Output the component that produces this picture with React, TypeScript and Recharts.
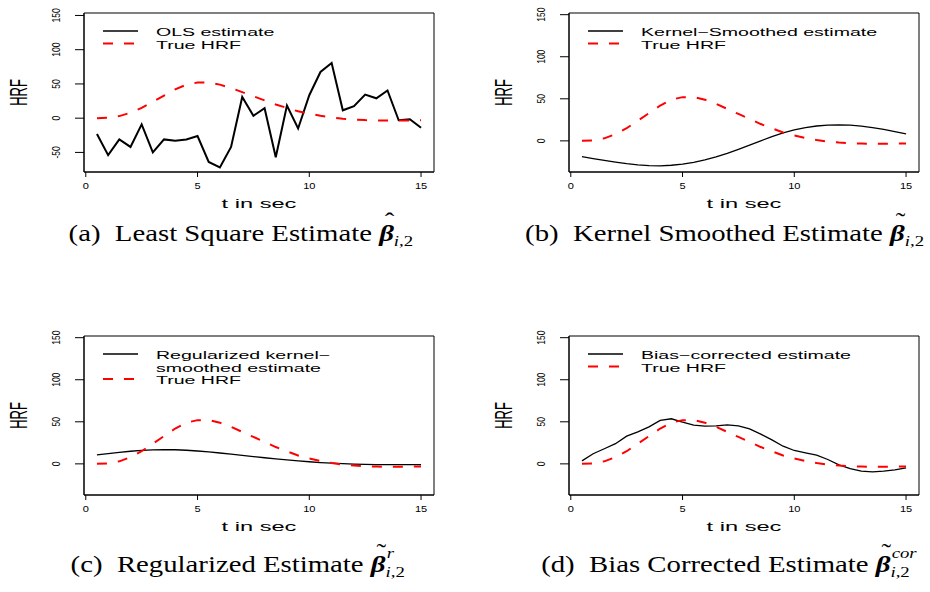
import React from "react";
import { Label, Legend, Line, LineChart, ReferenceArea, XAxis, YAxis } from "recharts";

// time grid (seconds)
const tSec = [0.5, 1, 1.5, 2, 2.5, 3, 3.5, 4, 4.5, 5, 5.5, 6, 6.5, 7, 7.5, 8, 8.5, 9, 9.5, 10, 10.5, 11, 11.5, 12, 12.5, 13, 13.5, 14, 14.5, 15];

const trueHrf = [0, 0.5, 3, 8, 15, 24, 33, 42, 49, 52, 52, 49, 44, 38, 32, 26, 20, 15, 10, 6.5, 3.5, 1, -0.8, -2, -2.8, -3.2, -3.4, -3.4, -3.3, -3.1];
const olsEstimate = [-23, -54, -31, -42, -9, -50, -31, -33, -31, -26, -64, -72, -42, 31, 3.5, 14.5, -57, 18.5, -15, 33.5, 67.5, 80.5, 11.5, 17.5, 34.5, 29, 40.5, -3, -1.5, -14];
const kernelEstimate = [-18.7, -21, -23.2, -25.2, -27, -28.5, -29.4, -29.6, -29, -27.6, -25.5, -22.7, -19, -14.8, -10, -5, 0, 5, 9.5, 13, 15.8, 17.7, 18.8, 19.1, 18.7, 17.5, 15.8, 13.6, 11.1, 8.4];
const regularizedEstimate = [10.7, 12.2, 13.7, 15, 16, 16.7, 17, 16.8, 16.2, 15.3, 14.2, 12.9, 11.5, 10.1, 8.7, 7.3, 6, 4.8, 3.6, 2.5, 1.6, 0.8, 0.2, -0.3, -0.6, -0.8, -0.9, -0.9, -0.9, -0.8];
const biasCorrectedEstimate = [3.6, 12, 18, 24, 33, 38, 44, 51.6, 53.6, 49.6, 46, 44.8, 45.2, 46.4, 45.2, 41.7, 35.3, 28.6, 21, 15.9, 13, 10.3, 5.2, -1.2, -5.6, -8.7, -9.5, -8.7, -7.1, -4.8];

const xTicks = [0, 5, 10, 15];
const yTicksOls = [-50, 0, 50, 100, 150];
const yTicks = [0, 50, 100, 150];

const SANS = "'Liberation Sans', Arial, sans-serif";
const SERIF = "'Liberation Serif', 'Times New Roman', serif";

// R plot was stretched sideways, so text gets a horizontal scale
const TICK_SX = 1.3;
const TEXT_SX = 1.7;

const W = 445;
const H = 215;
const PLOT = { left: 84, top: 13, width: 350, height: 159 };
const X_DOMAIN: [number, number] = [-0.08, 15.58];

function StretchText({ x, y, sx, size, rotate, children }: any) {
  return (
    <text
      transform={`translate(${x},${y}) scale(${sx},1)${rotate ? " rotate(-90)" : ""}`}
      textAnchor="middle"
      dominantBaseline="central"
      fontSize={size}
      fontFamily={SANS}
      fill="#000"
    >
      {children}
    </text>
  );
}

function XTick({ x, payload }: any) {
  return (
    <StretchText x={x} y={PLOT.top + PLOT.height + 14} sx={TICK_SX} size={8.5}>
      {payload.value}
    </StretchText>
  );
}

function YTick({ y, payload }: any) {
  return (
    <StretchText x={PLOT.left - 28} y={y} sx={TICK_SX} size={8.5} rotate>
      {payload.value}
    </StretchText>
  );
}

function LegendBox({ lines }: { lines: string[] }) {
  const rows = lines.map((_, i) => 31 + i * 12.5);
  const last = rows[rows.length - 1];
  return (
    <svg width={W} height={70} style={{ display: "block" }}>
      <line x1={103} x2={138} y1={rows[0]} y2={rows[0]} stroke="#000" strokeWidth={1.3} />
      <line x1={103} x2={138} y1={last} y2={last} stroke="#ff0000" strokeWidth={2} strokeDasharray="10 11" />
      {lines.map((label, i) => (
        <text
          key={label}
          transform={`translate(156,${rows[i] + 1}) scale(${TEXT_SX},1)`}
          dominantBaseline="central"
          fontSize={11.5}
          fontFamily={SANS}
          fill="#000"
        >
          {label}
        </text>
      ))}
    </svg>
  );
}

type PanelProps = {
  left: number;
  top: number;
  estimate: number[];
  estimateWidth: number;
  legendLines: string[];
  yDomain: [number, number];
  yTicks: number[];
};

function Panel({ left, top, estimate, estimateWidth, legendLines, yDomain, yTicks }: PanelProps) {
  const rows = tSec.map((t, i) => ({ t, estimate: estimate[i], truth: trueHrf[i] }));
  return (
    <div style={{ position: "absolute", left, top, width: W, height: H }}>
      <LineChart
        width={W}
        height={H}
        data={rows}
        margin={{ top: PLOT.top, right: W - PLOT.left - PLOT.width, bottom: 0, left: 0 }}
      >
        <XAxis
          dataKey="t"
          type="number"
          domain={X_DOMAIN}
          ticks={xTicks}
          allowDataOverflow
          height={H - PLOT.top - PLOT.height}
          tickSize={5}
          tickLine={{ stroke: "#000" }}
          axisLine={{ stroke: "#000" }}
          tick={<XTick />}
        >
          <Label
            content={() => (
              <StretchText x={PLOT.left + PLOT.width / 2} y={203.5} sx={1.75} size={13.5}>
                t in sec
              </StretchText>
            )}
          />
        </XAxis>
        <YAxis
          type="number"
          domain={yDomain}
          ticks={yTicks}
          allowDataOverflow
          width={PLOT.left}
          tickSize={9}
          tickLine={{ stroke: "#000" }}
          axisLine={{ stroke: "#000" }}
          tick={<YTick />}
        >
          <Label
            content={() => (
              <StretchText x={19} y={PLOT.top + PLOT.height / 2} sx={1.8} size={13} rotate>
                HRF
              </StretchText>
            )}
          />
        </YAxis>
        <ReferenceArea
          x1={X_DOMAIN[0]}
          x2={X_DOMAIN[1]}
          y1={yDomain[0]}
          y2={yDomain[1]}
          fill="none"
          stroke="#000"
          strokeWidth={1}
          fillOpacity={0}
        />
        <Line
          dataKey="estimate"
          type="linear"
          stroke="#000"
          strokeWidth={estimateWidth}
          dot={false}
          isAnimationActive={false}
        />
        <Line
          dataKey="truth"
          type="linear"
          stroke="#ff0000"
          strokeWidth={2}
          strokeDasharray="10 11"
          dot={false}
          isAnimationActive={false}
        />
        <Legend
          layout="horizontal"
          verticalAlign="middle"
          align="center"
          wrapperStyle={{ left: 0, top: 0, width: W, height: 70 }}
          content={() => <LegendBox lines={legendLines} />}
        />
      </LineChart>
    </div>
  );
}

function Beta({ accent, sup }: { accent: string; sup?: string }) {
  return (
    <span style={{ whiteSpace: "nowrap" }}>
      <span style={{ position: "relative", fontWeight: 700, fontStyle: "italic" }}>
        β
        <span style={{ position: "absolute", left: "0.2em", top: "-0.52em", fontWeight: 400, fontStyle: "normal" }}>
          {accent}
        </span>
      </span>
      <span style={{ position: "relative", fontSize: 15 }}>
        {sup ? (
          <span style={{ position: "absolute", left: 1, top: -19, fontStyle: "italic" }}>{sup}</span>
        ) : null}
        <span style={{ position: "relative", top: 5 }}>
          <i>i</i>,2
        </span>
      </span>
    </span>
  );
}

function Caption({ cx, baseline, tag, text, accent, sup }: any) {
  return (
    <div
      style={{
        position: "absolute",
        left: cx - 300,
        width: 600,
        top: baseline - 21,
        textAlign: "center",
        fontFamily: SERIF,
        fontSize: 23,
        lineHeight: "26px",
        color: "#000",
        whiteSpace: "nowrap",
      }}
    >
      <span style={{ display: "inline-block", transform: "scaleX(1.25)" }}>
        ({tag})&nbsp; {text} <Beta accent={accent} sup={sup} />
      </span>
    </div>
  );
}

export default function App() {
  return (
    <div style={{ position: "absolute", left: 0, top: 0, width: 930, height: 592, background: "#fff", overflow: "hidden" }}>
      <Panel left={0} top={0} estimate={olsEstimate} estimateWidth={2} legendLines={["OLS estimate", "True HRF"]} yDomain={[-78.6, 153.6]} yTicks={yTicksOls} />
      <Panel left={485} top={0} estimate={kernelEstimate} estimateWidth={1.3} legendLines={["Kernel\u2212Smoothed estimate", "True HRF"]} yDomain={[-37, 152]} yTicks={yTicks} />
      <Panel left={0} top={323} estimate={regularizedEstimate} estimateWidth={1.3} legendLines={["Regularized kernel\u2212", "smoothed estimate", "True HRF"]} yDomain={[-37, 152]} yTicks={yTicks} />
      <Panel left={485} top={323} estimate={biasCorrectedEstimate} estimateWidth={1.3} legendLines={["Bias\u2212corrected estimate", "True HRF"]} yDomain={[-37, 152]} yTicks={yTicks} />
      <Caption cx={241} baseline={242} tag="a" text="Least Square Estimate" accent={"\u02c6"} />
      <Caption cx={725} baseline={242} tag="b" text="Kernel Smoothed Estimate" accent={"\u02dc"} />
      <Caption cx={238} baseline={573} tag="c" text="Regularized Estimate" accent={"\u02dc"} sup="r" />
      <Caption cx={725} baseline={573} tag="d" text="Bias Corrected Estimate" accent={"\u02dc"} sup="cor" />
    </div>
  );
}
